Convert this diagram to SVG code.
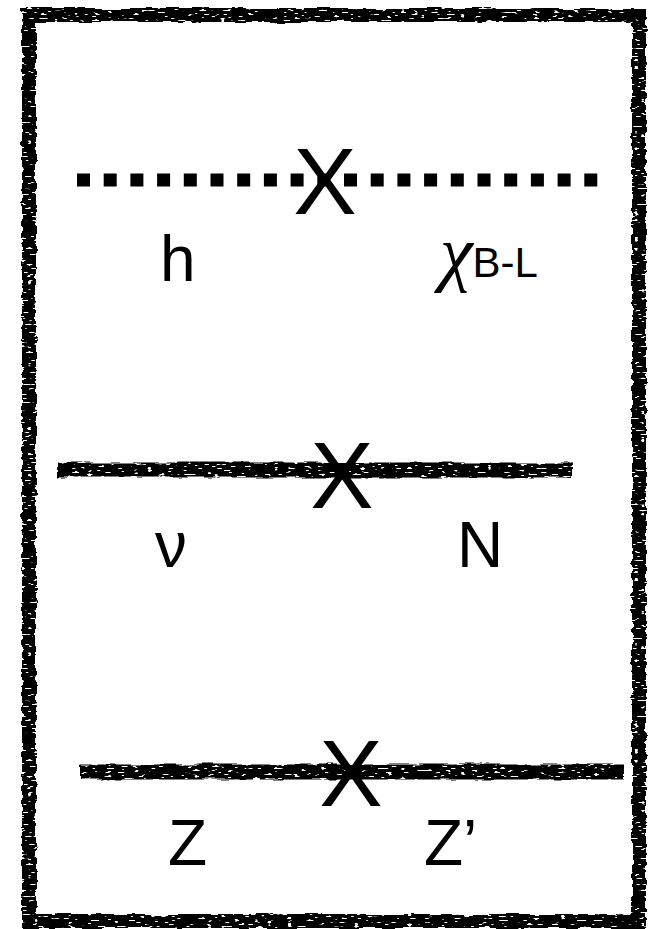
<svg xmlns="http://www.w3.org/2000/svg" width="649" height="929" viewBox="0 0 649 929">
  <style>
    .lbl { font-family: "Liberation Sans", Arial, sans-serif; font-size: 64px; fill: #000; }
    .x { font-family: "Liberation Sans", Arial, sans-serif; font-size: 95px; fill: #000; text-anchor: middle; }
    .rough { fill: none; stroke: #000; filter: url(#rough); }
  </style>
  <defs>
    <filter id="rough" filterUnits="userSpaceOnUse" x="0" y="0" width="649" height="929">
      <feTurbulence type="fractalNoise" baseFrequency="0.04 0.15" numOctaves="2" seed="3" result="n"/>
      <feDisplacementMap in="SourceGraphic" in2="n" scale="6" xChannelSelector="R" yChannelSelector="G" result="d"/>
      <feTurbulence type="fractalNoise" baseFrequency="0.15 0.5" numOctaves="1" seed="7" result="n2"/>
      <feColorMatrix in="n2" type="matrix" values="0 0 0 0 0  0 0 0 0 0  0 0 0 0 0  0 0 0 -20 14" result="m"/>
      <feComposite in="d" in2="m" operator="in"/>
    </filter>
  </defs>
  <rect width="649" height="929" fill="#fff"/>
  <g id="frame">
    <rect class="rough" x="29" y="15" width="610" height="906" stroke-width="14"/>
  </g>
  <g id="connectors">
    <line x1="77" y1="180" x2="598" y2="180" stroke="#000" stroke-width="13" stroke-dasharray="13 13.7"/>
    <line class="rough" x1="57" y1="470" x2="572" y2="470" stroke-width="15"/>
    <line class="rough" x1="80" y1="772" x2="624" y2="772" stroke-width="15"/>
  </g>
  <g id="row1">
    <text class="x" x="325" y="214">X</text>
    <text class="lbl" x="160" y="281">h</text>
    <text x="440" y="277" font-family="'Liberation Serif', 'DejaVu Serif', serif" font-style="italic" font-size="74">χ<tspan font-family="'Liberation Sans', Arial, sans-serif" font-style="normal" font-size="42">B-L</tspan></text>
  </g>
  <g id="row2">
    <text class="x" x="342" y="508">X</text>
    <text class="lbl" x="155" y="567" font-family="'DejaVu Sans', sans-serif" font-size="58">ν</text>
    <text class="lbl" x="457" y="567">N</text>
  </g>
  <g id="row3">
    <text class="x" x="351" y="806">X</text>
    <text class="lbl" x="168" y="865">Z</text>
    <text class="lbl" x="424" y="865">Z’</text>
  </g>
</svg>
